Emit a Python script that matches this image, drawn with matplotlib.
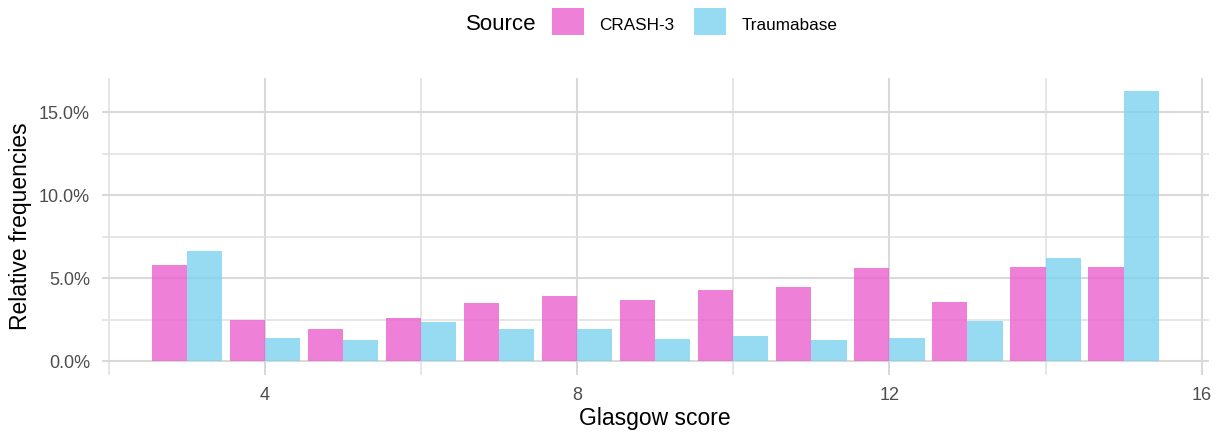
import matplotlib
matplotlib.use("Agg")
import matplotlib.pyplot as plt
import numpy as np
from matplotlib.patches import Rectangle
from matplotlib.ticker import FuncFormatter, MultipleLocator

plt.rcParams['font.family'] = ['Liberation Sans', 'DejaVu Sans']

# data (relative frequencies in %)
scores = [3, 4, 5, 6, 7, 8, 9, 10, 11, 12, 13, 14, 15]
crash3 = [5.83, 2.47, 1.93, 2.63, 3.52, 3.92, 3.72, 4.32, 4.50, 5.63, 3.56, 5.69, 5.67]
traumabase = [6.65, 1.41, 1.27, 2.35, 1.93, 1.97, 1.33, 1.51, 1.31, 1.39, 2.41, 6.23, 16.27]
sources = ["CRASH-3", "Traumabase"]

pink = '#EC60CD'
blue = '#7DD2EF'
alpha = 0.8

W, H = 1218, 432
fig = plt.figure(figsize=(W / 100, H / 100), dpi=100)
ax = fig.add_axes([101.6 / W, 57 / H, (1209 - 101.6) / W, (375 - 77.5) / H])

x = np.array(scores, dtype=float)
bw = 0.45
ax.bar(x - bw / 2, crash3, width=bw, color=pink, alpha=alpha, linewidth=0, zorder=3)
ax.bar(x + bw / 2, traumabase, width=bw, color=blue, alpha=alpha, linewidth=0, zorder=3)

ax.set_xlim(1.905, 16.095)
ax.set_ylim(-0.815, 17.08)
ax.xaxis.set_major_locator(MultipleLocator(4))
ax.xaxis.set_minor_locator(MultipleLocator(2))
ax.yaxis.set_major_locator(MultipleLocator(5))
ax.yaxis.set_minor_locator(MultipleLocator(2.5))
ax.yaxis.set_major_formatter(FuncFormatter(lambda v, p: "%.1f%%" % v))

ax.grid(which='major', color='#d9d9d9', linewidth=1.5, zorder=0)
ax.grid(which='minor', color='#dfdfdf', linewidth=1.1, zorder=0)
ax.set_axisbelow(True)
for s in ax.spines.values():
    s.set_visible(False)
ax.tick_params(which='both', length=0, labelsize=13, labelcolor='#4d4d4d')
ax.tick_params(axis='y', pad=8.3)
ax.tick_params(axis='x', pad=8.6)

ax.set_xlabel("Glasgow score", fontsize=16.5, color='black', labelpad=2)
ax.set_ylabel("Relative frequencies", fontsize=16.5, color='black', labelpad=5)

# legend on top
fig.text(466 / W, 1 - 25 / H, "Source", fontsize=16, ha='left', va='center')
keys = [(552, pink), (694, blue)]
labels_x = [599, 742]
for (kx, c), lx, name in zip(keys, labels_x, sources):
    fig.patches.append(Rectangle((kx / W, 1 - 35 / H), 32 / W, 27 / H,
                                 transform=fig.transFigure, facecolor=c,
                                 alpha=alpha, linewidth=0))
    fig.text(lx / W, 1 - 25 / H, name, fontsize=12.3, ha='left', va='center')

fig.savefig("out.png", dpi=100)
